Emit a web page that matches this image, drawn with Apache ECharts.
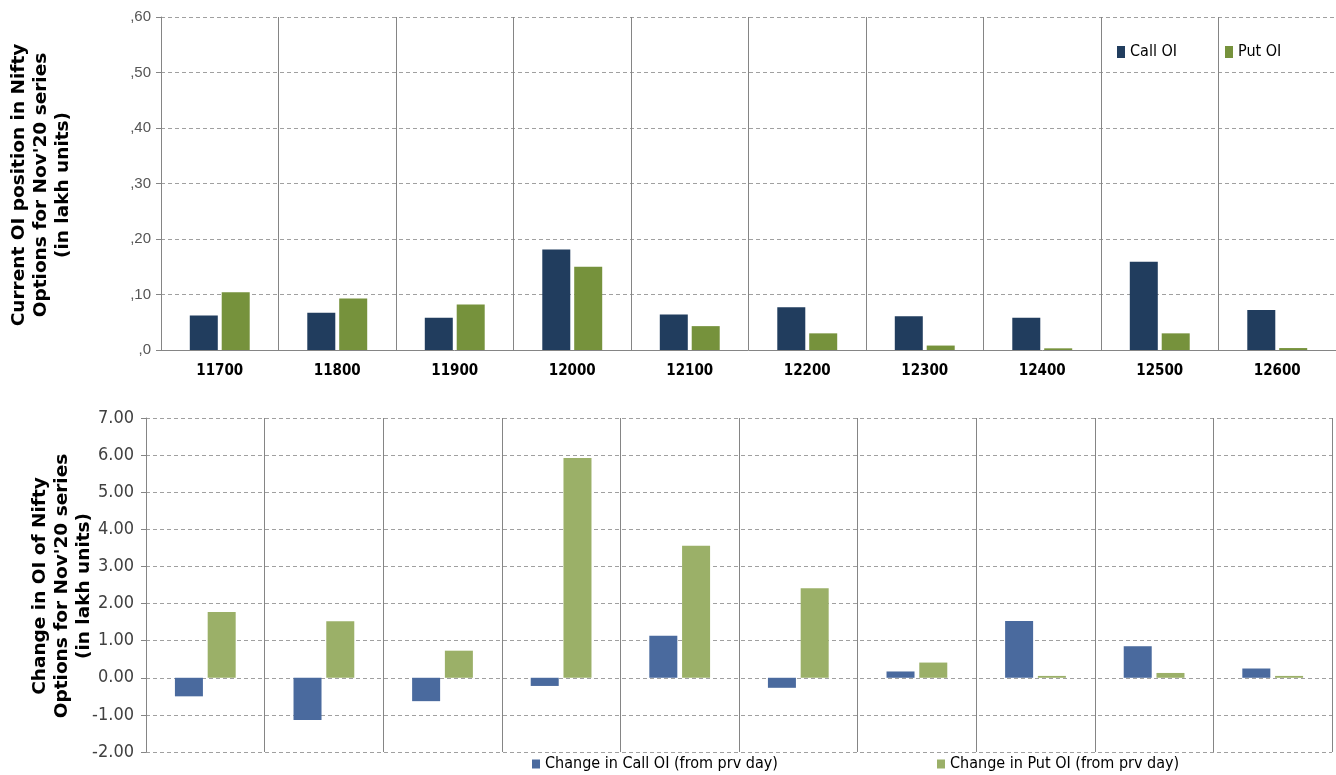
<!DOCTYPE html>
<html>
<head>
<meta charset="utf-8">
<script src="https://cdn.jsdelivr.net/npm/echarts@6/dist/echarts.min.js"></script>
<style>
html,body{margin:0;padding:0;background:#fff;}
#chart{width:1336px;height:775px;}
</style>
</head>
<body>
<div id="chart"></div>
<script>
const strikes = ['11700','11800','11900','12000','12100','12200','12300','12400','12500','12600'];
const callOI = [6.2, 6.7, 5.8, 18.1, 6.4, 7.7, 6.1, 5.8, 15.9, 7.2];
const putOI  = [10.4, 9.3, 8.2, 15.0, 4.3, 3.0, 0.8, 0.3, 3.0, 0.35];
const callChg = [-0.50, -1.14, -0.63, -0.22, 1.13, -0.27, 0.17, 1.53, 0.85, 0.25];
const putChg  = [1.77, 1.52, 0.73, 5.92, 3.56, 2.41, 0.41, 0.05, 0.13, 0.05];
const topTicks = [0, 10, 20, 30, 40, 50, 60];
const bottomTicks = [-2, -1, 0, 1, 2, 3, 4, 5, 6, 7];

const NARROW = '"DejaVu Sans Condensed", "Liberation Sans Narrow", sans-serif';
const SANS = '"Liberation Sans", Arial, sans-serif';
const WIDE = '"DejaVu Sans", Verdana, sans-serif';

const chart = echarts.init(document.getElementById('chart'), null, {renderer: 'canvas'});
const gridDash = {color: '#a0a0a0', type: [4, 3], width: 1};
const vSplit = {show: true, lineStyle: {color: '#858585', width: 1, type: 'solid'}};

chart.setOption({
  backgroundColor: '#ffffff',
  animation: false,
  grid: [
    {left: 161, top: 17, right: 0, height: 333},
    {left: 146, top: 418, right: 4, height: 334}
  ],
  legend: [
    {top: 39, left: 1112, itemWidth: 8, itemHeight: 12, itemGap: 48, icon: 'rect',
     textStyle: {fontFamily: NARROW, fontSize: 16, color: '#000'},
     data: ['Call OI', 'Put OI']},
    {top: 751, left: 527, itemWidth: 8, itemHeight: 9, icon: 'rect',
     textStyle: {fontFamily: NARROW, fontSize: 16, color: '#000'},
     data: ['Change in Call OI (from prv day)']},
    {top: 751, left: 932, itemWidth: 8, itemHeight: 9, icon: 'rect',
     textStyle: {fontFamily: NARROW, fontSize: 16, color: '#000'},
     data: ['Change in Put OI (from prv day)']}
  ],
  xAxis: [
    {type: 'category', gridIndex: 0, data: strikes, boundaryGap: true,
     axisLine: {show: true, lineStyle: {color: '#858585'}},
     axisTick: {show: false},
     splitLine: vSplit,
     axisLabel: {fontFamily: NARROW, fontWeight: 'bold', fontSize: 15, color: '#000', margin: 14}},
    {type: 'category', gridIndex: 1, data: strikes, boundaryGap: true,
     axisLine: {show: false}, axisTick: {show: false}, axisLabel: {show: false},
     splitLine: vSplit}
  ],
  yAxis: [
    {type: 'value', gridIndex: 0, min: topTicks[0], max: topTicks[topTicks.length-1], interval: 10,
     axisLine: {show: true, lineStyle: {color: '#858585'}},
     axisTick: {show: true, length: 5, lineStyle: {color: '#858585'}},
     splitLine: {show: true, lineStyle: gridDash},
     axisLabel: {formatter: v => ',' + v, fontFamily: SANS, fontSize: 15, color: '#555', margin: 10}},
    {type: 'value', gridIndex: 1, min: bottomTicks[0], max: bottomTicks[bottomTicks.length-1], interval: 1,
     axisLine: {show: true, onZero: false, lineStyle: {color: '#858585'}},
     axisTick: {show: true, length: 5, lineStyle: {color: '#858585'}},
     splitLine: {show: true, lineStyle: gridDash},
     axisLabel: {formatter: v => v.toFixed(2), fontFamily: NARROW, fontSize: 18, color: '#404040', margin: 12}}
  ],
  series: [
    {name: 'Call OI', type: 'bar', xAxisIndex: 0, yAxisIndex: 0, data: callOI,
     barWidth: 28, barGap: '14%', itemStyle: {color: '#213D5E'}},
    {name: 'Put OI', type: 'bar', xAxisIndex: 0, yAxisIndex: 0, data: putOI,
     barWidth: 28, barGap: '14%', itemStyle: {color: '#76923C'}},
    {name: 'Change in Call OI (from prv day)', type: 'bar', xAxisIndex: 1, yAxisIndex: 1, data: callChg,
     barWidth: 28, barGap: '17%', itemStyle: {color: '#4A6A9E'}},
    {name: 'Change in Put OI (from prv day)', type: 'bar', xAxisIndex: 1, yAxisIndex: 1, data: putChg,
     barWidth: 28, barGap: '17%', itemStyle: {color: '#9BB068'}}
  ],
  graphic: [
    {type: 'text', x: 41, y: 185, rotation: Math.PI / 2,
     style: {text: "Current OI position in Nifty\nOptions for Nov'20 series\n(in lakh units)",
             align: 'center', verticalAlign: 'middle', fontFamily: WIDE, fontWeight: 'bold',
             fontSize: 18.5, lineHeight: 22, fill: '#000'}},
    {type: 'text', x: 62, y: 586, rotation: Math.PI / 2,
     style: {text: "Change in OI of Nifty\nOptions for Nov'20 series\n(in lakh units)",
             align: 'center', verticalAlign: 'middle', fontFamily: WIDE, fontWeight: 'bold',
             fontSize: 18.5, lineHeight: 22, fill: '#000'}}
  ]
});
</script>
</body>
</html>
